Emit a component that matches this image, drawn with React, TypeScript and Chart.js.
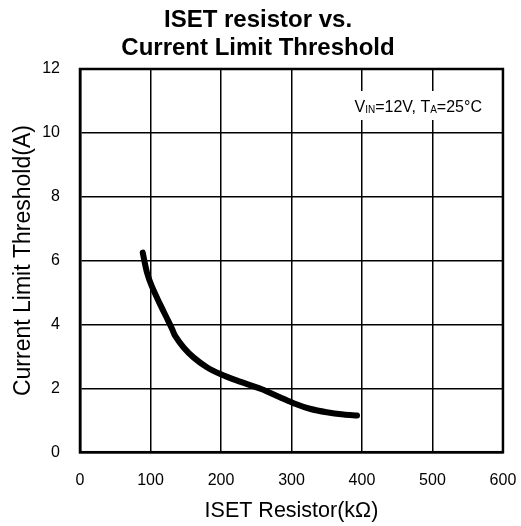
import React, { useEffect, useRef } from "react";
import { Chart, registerables } from "chart.js";

Chart.register(...registerables);

const resistanceK = [89, 95, 102, 113, 125, 131, 135, 147, 161, 180, 199, 223, 257, 282, 306, 326, 350, 374, 393];
const thresholdA = [6.25, 5.63, 5.19, 4.66, 4.12, 3.84, 3.64, 3.28, 2.97, 2.66, 2.45, 2.24, 1.98, 1.74, 1.51, 1.36, 1.25, 1.18, 1.15];

const titleLines = ["ISET resistor vs.", "Current Limit Threshold"];
const xTitle = "ISET Resistor(kΩ)";
const yTitle = "Current Limit Threshold(A)";
const xTickStep = 100;
const yTickStep = 2;
const FONT = "'Liberation Sans', Arial, Helvetica, sans-serif";

const boxPlugin = {
  id: "boxBorder",
  beforeDatasetsDraw(chart: any) {
    const { ctx, chartArea } = chart;
    ctx.save();
    ctx.strokeStyle = "#000";
    ctx.lineWidth = 2.5;
    ctx.strokeRect(chartArea.left, chartArea.top, chartArea.right - chartArea.left, chartArea.bottom - chartArea.top);
    ctx.restore();
  },
};

const notePlugin = {
  id: "condNote",
  afterDatasetsDraw(chart: any) {
    const { ctx, chartArea } = chart;
    const parts: [string, number, number][] = [
      ["V", 16, 0],
      ["IN", 10, 1],
      ["=12V, T", 16, 0],
      ["A", 10, 1],
      ["=25°C", 16, 0],
    ];
    let total = 0;
    for (const [t, s] of parts) {
      ctx.font = `${s}px ${FONT}`;
      total += ctx.measureText(t).width;
    }
    const x0 = chartArea.right - 21 - total;
    const baseY = chartArea.top + 43;
    ctx.save();
    ctx.fillStyle = "#fff";
    ctx.fillRect(x0 - 5, chartArea.top + 22, total + 10, 29);
    ctx.fillStyle = "#000";
    ctx.textBaseline = "alphabetic";
    ctx.textAlign = "left";
    let x = x0;
    for (const [t, s, sub] of parts) {
      ctx.font = `${s}px ${FONT}`;
      ctx.fillText(t, x, baseY + (sub ? 1 : 0));
      x += ctx.measureText(t).width;
    }
    ctx.restore();
  },
};

export default function App() {
  const ref = useRef<HTMLCanvasElement | null>(null);
  useEffect(() => {
    if (!ref.current) return;
    const chart = new Chart(ref.current, {
      type: "line",
      data: {
        datasets: [
          {
            data: resistanceK.map((x, i) => ({ x, y: thresholdA[i] })),
            borderColor: "#000",
            borderWidth: 6,
            borderCapStyle: "round",
            borderJoinStyle: "round",
            pointRadius: 0,
            tension: 0.3,
            fill: false,
          },
        ],
      },
      options: {
        responsive: false,
        animation: false,
        devicePixelRatio: 1,
        layout: { padding: { left: 0, right: 5, top: 0, bottom: 0 } },
        plugins: {
          legend: { display: false },
          tooltip: { enabled: false },
          title: {
            display: true,
            text: titleLines,
            color: "#000",
            font: { family: FONT, size: 24, weight: "bold", lineHeight: 1.2 },
            padding: { top: 5.6, bottom: 5.8 },
          },
        },
        scales: {
          x: {
            type: "linear",
            min: 0,
            max: 600,
            ticks: { stepSize: xTickStep, color: "#000", font: { family: FONT, size: 16, lineHeight: 2.9 }, padding: 4.7 },
            grid: { color: "#000", lineWidth: 1.5, drawTicks: false },
            border: { display: true, color: "#000", width: 2.5 },
            title: { display: true, text: xTitle, color: "#000", font: { family: FONT, size: 21.5 }, padding: { top: -10.2, bottom: 2.4 } },
          },
          y: {
            type: "linear",
            min: 0,
            max: 12,
            ticks: { stepSize: yTickStep, color: "#000", font: { family: FONT, size: 16 }, padding: 20 },
            grid: { color: "#000", lineWidth: 1.5, drawTicks: false },
            border: { display: true, color: "#000", width: 2.5 },
            title: { display: true, text: yTitle, color: "#000", font: { family: FONT, size: 23 }, padding: { top: 10.2, bottom: -15.6 } },
          },
        },
      },
      plugins: [boxPlugin, notePlugin],
    });
    return () => chart.destroy();
  }, []);
  return (
    <div style={{ position: "fixed", left: 0, top: 0, width: 521, height: 526, background: "#fff" }}>
      <canvas ref={ref} width={521} height={526} style={{ display: "block" }} />
    </div>
  );
}
